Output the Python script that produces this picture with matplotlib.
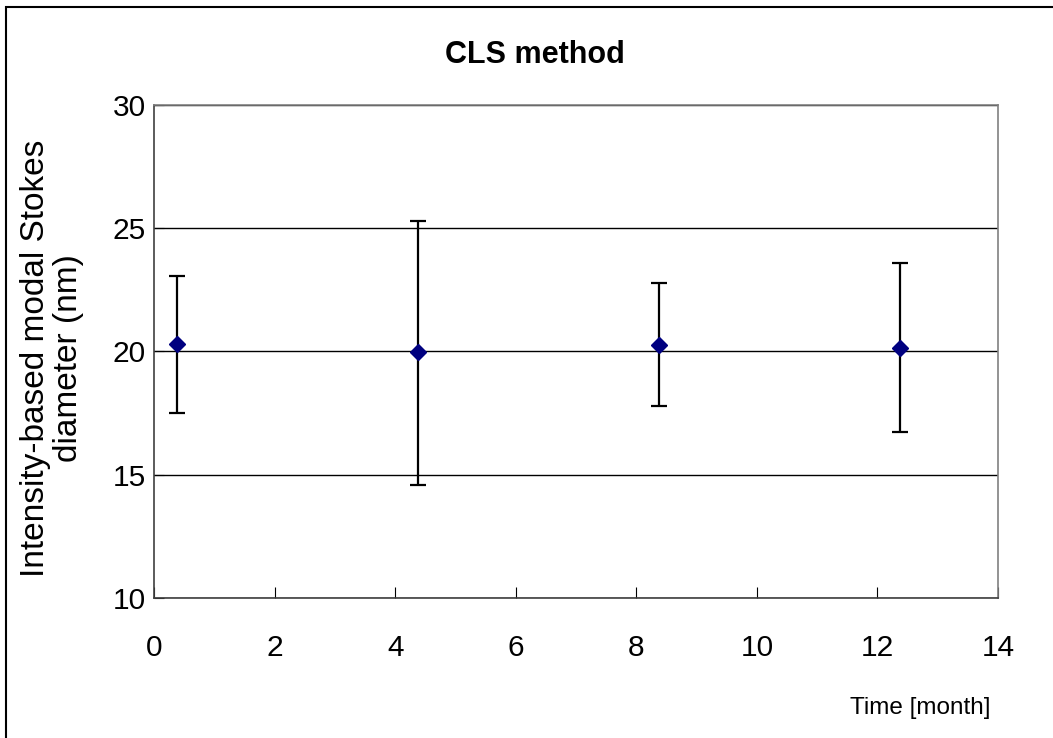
import matplotlib
matplotlib.use("Agg")
import matplotlib.pyplot as plt
from matplotlib.patches import Rectangle

plt.rcParams['font.family'] = ['Liberation Sans', 'DejaVu Sans']

time_month = [0.38, 4.38, 8.37, 12.37]
diameter_nm = [20.32, 19.98, 20.26, 20.16]
err_upper = [23.08, 25.30, 22.77, 23.61]
err_lower = [17.50, 14.59, 17.77, 16.74]
x_ticks = [0, 2, 4, 6, 8, 10, 12, 14]
y_ticks = [10, 15, 20, 25, 30]

W, H = 1053, 738
fig = plt.figure(figsize=(W / 100, H / 100), dpi=100)

# outer chart frame
fig.patches.append(Rectangle((6 / W, -0.1), 1.2, (H - 7) / H + 0.1,
                             transform=fig.transFigure, fill=False,
                             edgecolor='black', linewidth=1.5))

ax = fig.add_axes([154 / W, 1 - 598 / H, (998 - 154) / W, (598 - 105) / H])

yerr = [[d - lo for d, lo in zip(diameter_nm, err_lower)],
        [hi - d for d, hi in zip(diameter_nm, err_upper)]]

ax.errorbar(time_month, diameter_nm, yerr=yerr, fmt='D', color='#000080',
            markersize=8, ecolor='black', elinewidth=1.6, capsize=6,
            capthick=1.6, zorder=3)

ax.set_xlim(0, 14)
ax.set_ylim(10, 30)
ax.set_xticks(x_ticks)
ax.set_yticks(y_ticks)
ax.yaxis.grid(True, color='black', linewidth=1.0)
ax.set_axisbelow(True)

ax.tick_params(axis='x', direction='in', length=8, width=0.8, labelsize=21.5, pad=26)
ax.tick_params(axis='y', direction='in', length=7, width=0.8, labelsize=21.5, pad=6)

for s in ['top', 'right']:
    ax.spines[s].set_color('#808080')
    ax.spines[s].set_linewidth(1.2)
for s in ['left', 'bottom']:
    ax.spines[s].set_color('#404040')
    ax.spines[s].set_linewidth(1.2)

fig.text(535 / W, 1 - 55 / H, 'CLS method', ha='center', va='center',
         fontsize=22, fontweight='bold')
fig.text(990 / W, 1 - 708 / H, 'Time [month]', ha='right', va='center',
         fontsize=17.5)
fig.text(52 / W, 1 - 358 / H, 'Intensity-based modal Stokes\ndiameter (nm)',
         ha='center', va='center', rotation=90, fontsize=24,
         multialignment='center', linespacing=1.05)

fig.savefig('out.png', dpi=100)
